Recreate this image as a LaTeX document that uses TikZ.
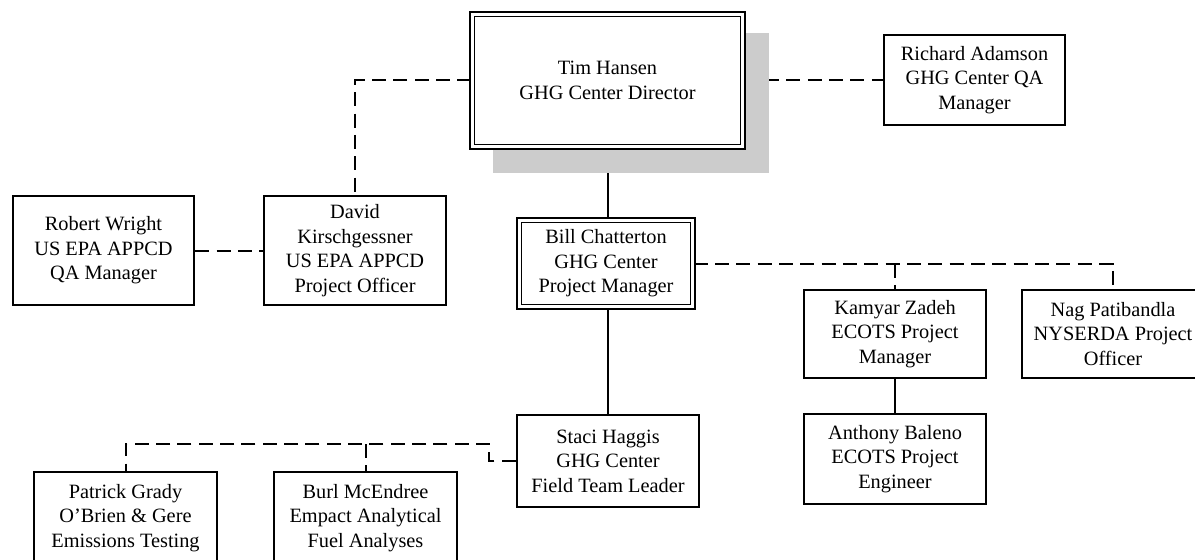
\documentclass[tikz,border=0pt]{standalone}
\usepackage{fontspec}
\setmainfont{Liberation Serif}
\pgfdeclarelayer{bg}
\pgfsetlayers{bg,main}
\tikzset{
  person/.style={draw=black, line width=1.5pt, fill=white, align=center,
    inner sep=0pt, font=\fontsize{15.25}{18.4}\selectfont,
    minimum width=137pt},
  dbl/.style={person, line width=1.4pt, double=white, double distance=2.1pt},
  solidlink/.style={draw=black, line width=1.5pt},
  dashlink/.style={draw=black, line width=1.5pt, dash pattern=on 10.5pt off 5.5pt}
}
\begin{document}
\begin{tikzpicture}[x=0.75pt, y=-0.75pt]
\useasboundingbox (0,0) rectangle (1195,560);
\clip (0,0) rectangle (1195,560);
% shadow of the director box
\fill[black!20] (493,33) rectangle (769,173);
% nodes
\node[dbl, minimum width=203pt, minimum height=99.5pt] (tim) at (607.5,80.5) {Tim Hansen\\GHG Center Director};
\node[person, minimum width=136pt, minimum height=68pt] (rich) at (974.5,80) {Richard Adamson\\GHG Center QA\\Manager};
\node[person, minimum height=82pt, minimum width=136pt] (rob) at (103.5,250.5) {Robert Wright\\US EPA APPCD\\QA Manager};
\node[person, minimum height=82pt] (dav) at (355,250.5) {David\\Kirschgessner\\US EPA APPCD\\Project Officer};
\node[dbl, minimum width=130.2pt, minimum height=65pt] (bill) at (606,263.5) {Bill Chatterton\\GHG Center\\Project Manager};
\node[person, minimum height=66.4pt] (kam) at (895,334) {Kamyar Zadeh\\ECOTS Project\\Manager};
\node[person, minimum height=66.4pt] (nag) at (1113,334) {Nag Patibandla\\NYSERDA Project\\Officer};
\node[person, minimum height=68pt] (anth) at (895,459) {Anthony Baleno\\ECOTS Project\\Engineer};
\node[person, minimum height=69.4pt] (staci) at (608,461) {Staci Haggis\\GHG Center\\Field Team Leader};
\node[person, minimum height=69pt, minimum width=137.5pt] (pat) at (125.5,518) {Patrick Grady\\O'Brien \& Gere\\Emissions Testing};
\node[person, minimum height=69pt] (burl) at (365.5,518) {Burl McEndree\\Empact Analytical\\Fuel Analyses};
\coordinate (j) at (489,444);
% connectors
\begin{pgfonlayer}{bg}
\draw[solidlink] (tim.south) -- (tim.south |- staci.north);
\draw[solidlink] (kam.south) -- (anth.north);
\draw[dashlink] (tim.west) -| (dav.north);
\draw[dashlink] (tim.east) -- (tim.east -| rich.west);
\draw[dashlink] (rob.east) -- (rob.east -| dav.west);
\draw[dashlink] (bill.east) -- (bill.east -| nag.north) -- (nag.north);
\draw[dashlink] (bill.east -| kam.north) -- (kam.north);
\draw[dashlink] (staci.west) -| (j) -- (j -| pat.north) -- (pat.north);
\draw[dashlink] (j -| burl.north) -- (burl.north);
\end{pgfonlayer}
\end{tikzpicture}
\end{document}
